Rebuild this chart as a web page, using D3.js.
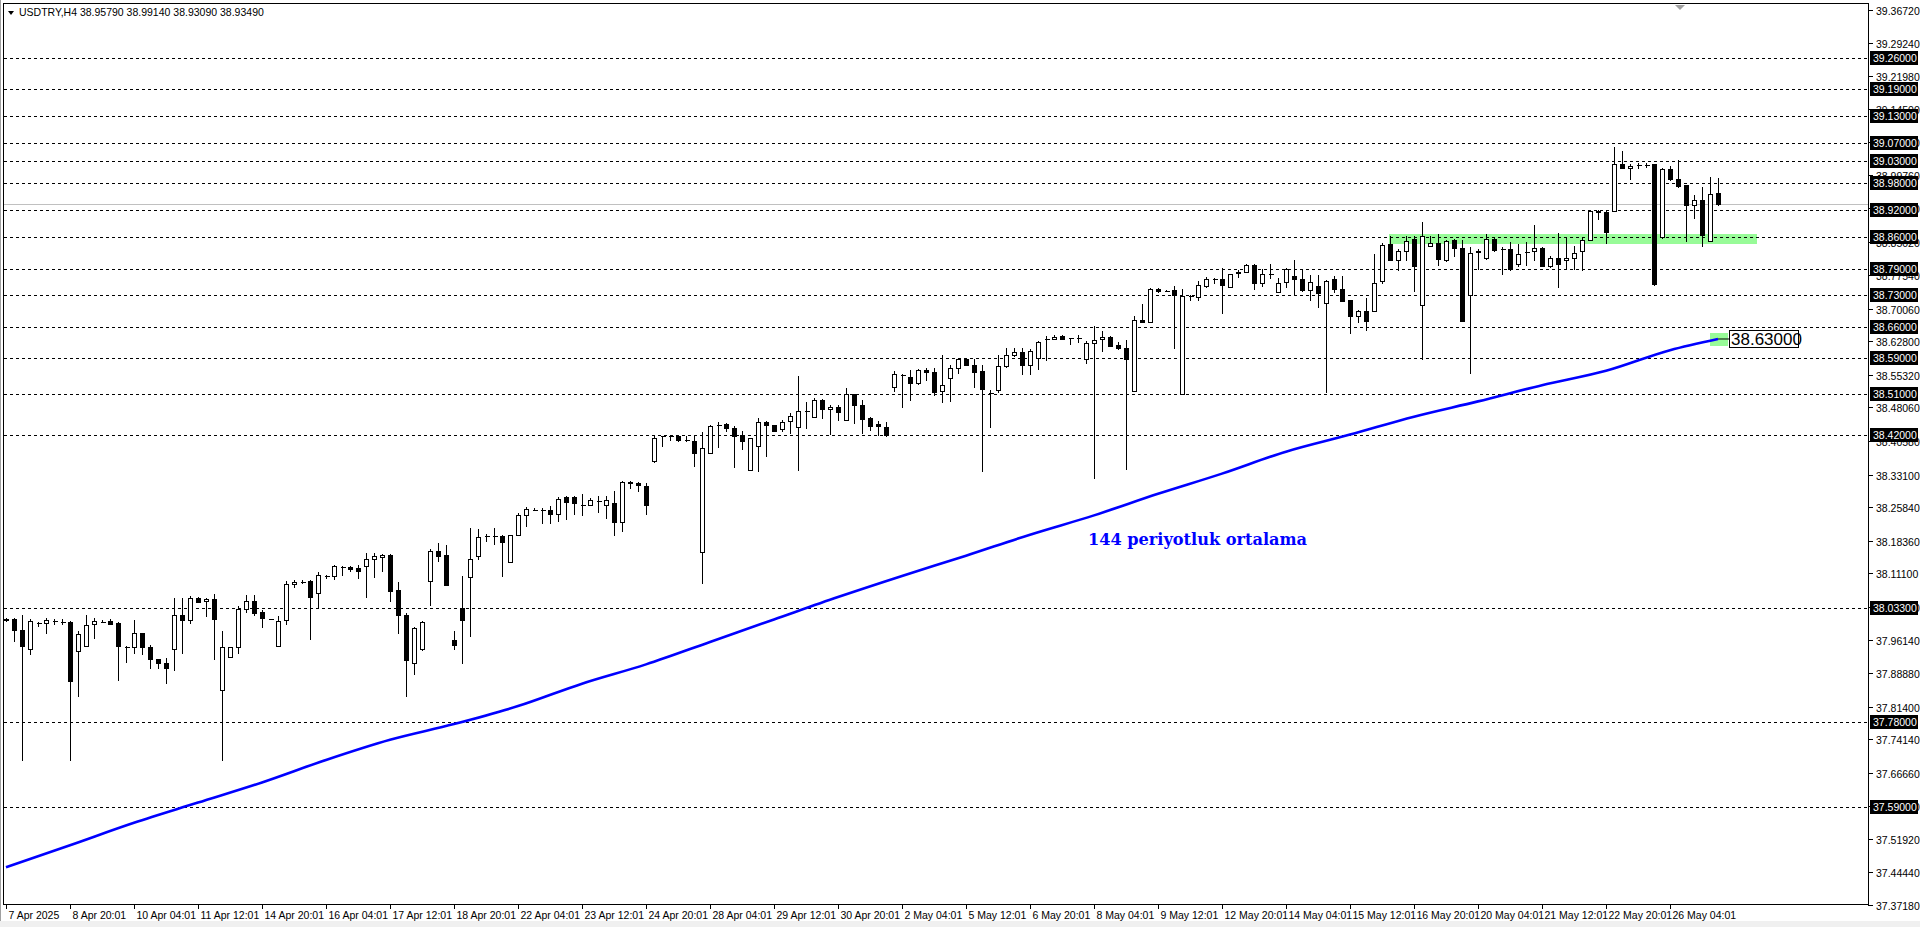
<!DOCTYPE html>
<html><head><meta charset="utf-8">
<script src="https://cdn.jsdelivr.net/npm/d3@7"></script>
<style>html,body{margin:0;padding:0;background:#fff;overflow:hidden}svg{display:block}</style>
</head><body>
<svg id="c" width="1920" height="927"></svg>
<script>
const symbol = "USDTRY,H4";
const lastQuote = ["38.95790","38.99140","38.93090","38.93490"];
// [open, high, low, close]
const ohlc = [
[38.010,38.011,38.005,38.006],[38.009,38.011,37.959,37.984],[37.985,38.017,37.696,37.950],[37.942,38.008,37.932,38.005],
[38.001,38.003,37.994,38.000],[38.000,38.011,37.978,38.007],[38.004,38.010,37.999,38.004],[38.002,38.008,37.997,38.002],
[38.003,38.004,37.696,37.870],[37.937,37.982,37.838,37.975],[37.950,38.017,37.948,37.995],[37.997,38.011,37.967,38.004],
[38.003,38.006,38.002,38.003],[38.005,38.008,37.997,37.999],[38.000,38.002,37.874,37.950],[37.947,37.948,37.913,37.947],
[37.946,38.007,37.933,37.977],[37.978,37.978,37.930,37.946],[37.947,37.952,37.899,37.919],[37.920,37.921,37.899,37.910],
[37.910,37.922,37.867,37.899],[37.942,38.056,37.896,38.017],[38.017,38.056,37.933,38.006],[38.006,38.060,38.000,38.055],
[38.056,38.058,38.046,38.048],[38.049,38.056,38.015,38.054],[38.054,38.065,37.921,38.008],[37.850,37.982,37.696,37.946],
[37.924,37.946,37.924,37.946],[37.946,38.039,37.933,38.032],[38.032,38.063,38.024,38.049],[38.049,38.063,38.017,38.023],
[38.024,38.030,37.991,38.012],[38.009,38.010,38.008,38.009],[37.948,38.015,37.948,38.004],[38.006,38.093,37.997,38.087],
[38.087,38.095,38.081,38.092],[38.092,38.097,38.090,38.092],[38.093,38.095,37.965,38.057],[38.066,38.113,38.033,38.107],
[38.105,38.107,38.101,38.104],[38.104,38.130,38.099,38.127],[38.124,38.128,38.108,38.124],[38.124,38.127,38.115,38.121],
[38.122,38.129,38.101,38.115],[38.127,38.156,38.059,38.142],[38.142,38.156,38.103,38.149],[38.147,38.155,38.117,38.152],
[38.152,38.153,38.050,38.072],[38.073,38.091,37.977,38.017],[38.017,38.023,37.837,37.917],[37.911,37.991,37.887,37.988],
[37.942,38.005,37.941,38.003],[38.093,38.164,38.041,38.160],[38.160,38.179,38.138,38.150],[38.151,38.175,38.084,38.084],
[37.962,37.982,37.943,37.952],[38.033,38.106,37.910,38.006],[38.102,38.211,37.971,38.142],[38.149,38.210,38.142,38.191],
[38.195,38.199,38.182,38.195],[38.195,38.211,38.177,38.195],[38.195,38.197,38.106,38.180],[38.136,38.197,38.136,38.196],
[38.196,38.246,38.196,38.240],[38.241,38.259,38.217,38.254],[38.253,38.256,38.251,38.253],[38.252,38.256,38.223,38.252],
[38.252,38.260,38.223,38.243],[38.243,38.280,38.227,38.276],[38.280,38.283,38.231,38.269],[38.281,38.283,38.242,38.267],
[38.262,38.288,38.240,38.262],[38.263,38.278,38.263,38.274],[38.271,38.284,38.248,38.271],[38.263,38.283,38.234,38.274],
[38.267,38.294,38.197,38.225],[38.225,38.316,38.205,38.315],[38.315,38.316,38.300,38.312],[38.312,38.314,38.294,38.307],
[38.306,38.312,38.244,38.262],[38.362,38.416,38.360,38.412],[38.416,38.417,38.394,38.416],[38.416,38.419,38.408,38.416],
[38.416,38.416,38.405,38.408],[38.409,38.416,38.405,38.409],[38.405,38.416,38.350,38.378],[38.158,38.426,38.090,38.389],
[38.379,38.442,38.379,38.439],[38.442,38.448,38.392,38.442],[38.443,38.445,38.427,38.434],[38.434,38.439,38.347,38.416],
[38.419,38.428,38.388,38.405],[38.341,38.413,38.340,38.412],[38.395,38.458,38.338,38.448],[38.448,38.451,38.373,38.441],
[38.441,38.442,38.428,38.429],[38.432,38.452,38.427,38.448],[38.450,38.467,38.424,38.461],[38.437,38.550,38.342,38.472],
[38.472,38.492,38.435,38.472],[38.460,38.502,38.459,38.497],[38.497,38.500,38.456,38.476],[38.476,38.487,38.422,38.481],
[38.481,38.487,38.453,38.471],[38.453,38.524,38.453,38.511],[38.511,38.511,38.446,38.485],[38.485,38.496,38.424,38.455],
[38.457,38.459,38.431,38.440],[38.444,38.451,38.420,38.439],[38.438,38.447,38.417,38.419],[38.526,38.561,38.517,38.554],
[38.552,38.555,38.481,38.552],[38.549,38.565,38.498,38.534],[38.534,38.566,38.533,38.563],[38.563,38.569,38.541,38.559],
[38.559,38.569,38.509,38.515],[38.518,38.598,38.493,38.531],[38.545,38.574,38.494,38.569],[38.569,38.591,38.558,38.589],
[38.589,38.591,38.574,38.576],[38.576,38.589,38.526,38.560],[38.561,38.576,38.338,38.522],[38.513,38.520,38.437,38.513],
[38.520,38.597,38.515,38.572],[38.572,38.612,38.570,38.598],[38.598,38.612,38.595,38.604],[38.604,38.612,38.555,38.575],
[38.575,38.610,38.555,38.607],[38.591,38.628,38.566,38.627],[38.633,38.639,38.586,38.633],[38.633,38.641,38.632,38.638],
[38.640,38.641,38.633,38.634],[38.635,38.636,38.621,38.635],[38.636,38.641,38.627,38.636],[38.589,38.628,38.580,38.625],
[38.625,38.661,38.323,38.631],[38.632,38.650,38.606,38.638],[38.638,38.639,38.617,38.618],[38.619,38.626,38.610,38.612],
[38.612,38.630,38.344,38.589],[38.518,38.685,38.517,38.676],[38.676,38.710,38.670,38.671],[38.671,38.747,38.671,38.745],
[38.745,38.747,38.738,38.741],[38.741,38.743,38.740,38.741],[38.743,38.751,38.613,38.731],[38.511,38.745,38.511,38.729],
[38.728,38.732,38.719,38.728],[38.726,38.762,38.720,38.753],[38.751,38.771,38.748,38.766],[38.766,38.769,38.757,38.766],
[38.766,38.792,38.691,38.754],[38.749,38.778,38.749,38.777],[38.779,38.787,38.771,38.783],[38.783,38.799,38.782,38.798],
[38.798,38.799,38.745,38.757],[38.757,38.789,38.752,38.778],[38.778,38.801,38.769,38.778],[38.737,38.769,38.737,38.758],
[38.760,38.792,38.749,38.789],[38.774,38.808,38.730,38.767],[38.767,38.786,38.740,38.743],[38.743,38.775,38.720,38.760],
[38.750,38.775,38.704,38.735],[38.714,38.765,38.514,38.763],[38.767,38.774,38.738,38.745],[38.745,38.773,38.717,38.717],
[38.719,38.721,38.646,38.684],[38.684,38.698,38.671,38.695],[38.695,38.725,38.652,38.674],[38.695,38.823,38.695,38.758],
[38.763,38.847,38.758,38.843],[38.844,38.862,38.808,38.809],[38.809,38.834,38.787,38.829],[38.829,38.862,38.808,38.851],
[38.856,38.862,38.741,38.795],[38.709,38.893,38.589,38.862],[38.841,38.862,38.840,38.847],[38.847,38.866,38.798,38.811],
[38.809,38.854,38.806,38.851],[38.853,38.855,38.819,38.836],[38.836,38.854,38.673,38.673],[38.730,38.838,38.557,38.824],
[38.826,38.834,38.789,38.830],[38.814,38.867,38.812,38.856],[38.856,38.858,38.829,38.832],[38.834,38.838,38.778,38.834],
[38.834,38.849,38.787,38.789],[38.799,38.845,38.795,38.823],[38.827,38.849,38.797,38.827],[38.828,38.886,38.810,38.836],
[38.836,38.838,38.795,38.796],[38.796,38.817,38.793,38.814],[38.814,38.870,38.749,38.801],[38.808,38.860,38.792,38.814],
[38.814,38.841,38.789,38.825],[38.828,38.860,38.787,38.853],[38.854,38.921,38.853,38.918],[38.919,38.921,38.901,38.916],
[38.915,38.918,38.848,38.872],[38.918,39.060,38.918,39.023],[39.023,39.052,39.013,39.013],[39.015,39.022,38.989,39.019],
[39.021,39.026,39.013,39.021],[39.021,39.026,39.017,39.021],[39.022,39.023,38.753,38.755],[38.860,39.015,38.859,39.012],
[39.012,39.018,38.987,38.989],[38.989,39.032,38.972,38.974],[38.976,38.977,38.851,38.931],[38.931,38.954,38.902,38.942],
[38.943,38.972,38.840,38.864],[38.851,38.995,38.851,38.956],[38.9579,38.9914,38.9309,38.9349]
];
const maBars   = [0,8,16,24,32,40,48,56,64,72,80,88,96,104,112,120,128,136,144,152,160,168,176,184,192,200,208,214];
const maValues = [37.456,37.505,37.555,37.600,37.645,37.695,37.740,37.775,37.815,37.865,37.908,37.958,38.008,38.058,38.105,38.150,38.197,38.240,38.288,38.333,38.382,38.420,38.460,38.494,38.530,38.562,38.608,38.633];
const dateLabels = ["7 Apr 2025","8 Apr 20:01","10 Apr 04:01","11 Apr 12:01","14 Apr 20:01","16 Apr 04:01","17 Apr 12:01","18 Apr 20:01","22 Apr 04:01","23 Apr 12:01","24 Apr 20:01","28 Apr 04:01","29 Apr 12:01","30 Apr 20:01","2 May 04:01","5 May 12:01","6 May 20:01","8 May 04:01","9 May 12:01","12 May 20:01","14 May 04:01","15 May 12:01","16 May 20:01","20 May 04:01","21 May 12:01","22 May 20:01","26 May 04:01"];
const dateStep = 8;
const yTicks = [39.3672,39.2924,39.2198,39.1450,39.0724,38.9976,38.9240,38.8502,38.7754,38.7006,38.6280,38.5532,38.4806,38.4058,38.3310,38.2584,38.1836,38.1110,38.0362,37.9614,37.8888,37.8140,37.7414,37.6666,37.5918,37.5192,37.4444,37.3718];
const levels = [39.26,39.19,39.13,39.07,39.03,38.98,38.92,38.86,38.79,38.73,38.66,38.59,38.51,38.42,38.033,37.78,37.59];
const bidPrice = 38.9349;
const zone = {from:172.9, to:218.9, low:38.845, high:38.866};
const maLabel = "38.63000";
const noteText = "144 periyotluk ortalama";
const notePos = {bar:135.25, price:38.174};

const svg = d3.select("#c");
const L=4, R=1868, T=4, B=904;
const x = d3.scaleLinear().domain([0,214]).range([6,1718]);
const y = d3.scaleLinear().domain([37.3718,39.3672]).range([905,9.5]);
const px = v => Math.round(v)+0.5;
const FONT = "Liberation Sans, Arial, sans-serif";

svg.append("rect").attr("x",0).attr("y",0).attr("width",1920).attr("height",927).attr("fill","#fff");
svg.append("rect").attr("x",0).attr("y",921).attr("width",1920).attr("height",6).attr("fill","#f0f0f0");
svg.append("line").attr("x1",0.5).attr("x2",0.5).attr("y1",0).attr("y2",921).attr("stroke","#a0a0a0").attr("stroke-width",1);

const g = svg.append("g").attr("shape-rendering","crispEdges");
g.append("rect").attr("x",x(zone.from)).attr("width",x(zone.to)-x(zone.from))
 .attr("y",y(zone.high)).attr("height",y(zone.low)-y(zone.high)).attr("fill","#98fb98");
g.append("line").attr("x1",L).attr("x2",R).attr("y1",px(y(bidPrice))).attr("y2",px(y(bidPrice))).attr("stroke","#c0c0c0");
g.selectAll(".lv").data(levels).join("line").attr("x1",L).attr("x2",R)
 .attr("y1",d=>px(y(d))).attr("y2",d=>px(y(d))).attr("stroke","#000").attr("stroke-dasharray","3,3");

const cg = g.append("g");
ohlc.forEach((d,i)=>{
  const [o,h,l,c]=d; const cx=px(x(i));
  cg.append("line").attr("x1",cx).attr("x2",cx).attr("y1",Math.round(y(h))).attr("y2",Math.round(y(l))+1).attr("stroke","#000");
  const top=Math.round(y(Math.max(o,c))), bot=Math.round(y(Math.min(o,c)));
  if (bot-top<1) {
    cg.append("line").attr("x1",cx-2).attr("x2",cx+3).attr("y1",top+0.5).attr("y2",top+0.5).attr("stroke","#000");
  } else {
    cg.append("rect").attr("x",cx-2).attr("y",top+0.5).attr("width",4).attr("height",bot-top)
      .attr("fill",c>=o?"#fff":"#000").attr("stroke","#000");
  }
});

const maData = maBars.map((b,i)=>[b,maValues[i]]);
const endX=x(214), endY=y(maValues[maValues.length-1]);
svg.append("rect").attr("x",endX-8).attr("y",endY-6).attr("width",18).attr("height",13).attr("fill","#98fb98");
svg.append("path").datum(maData).attr("fill","none").attr("stroke","#0000ff").attr("stroke-width",2.6)
 .attr("d",d3.line().x(d=>x(d[0])).y(d=>y(d[1])).curve(d3.curveMonotoneX));
svg.append("line").attr("x1",endX).attr("x2",endX+11).attr("y1",endY).attr("y2",endY).attr("stroke","#000");
svg.append("rect").attr("x",endX+11.5).attr("y",endY-8.5).attr("width",69).attr("height",17).attr("fill","#fff").attr("stroke","#000");
svg.append("text").attr("x",endX+13).attr("y",endY+6.5).attr("font-family",FONT).attr("font-size",17).text(maLabel);

svg.append("text").attr("x",x(notePos.bar)).attr("y",y(notePos.price)).attr("fill","#0000ff")
 .attr("font-family","DejaVu Serif").attr("font-weight","bold").attr("font-size",17)
 .attr("textLength",219).attr("lengthAdjust","spacingAndGlyphs").text(noteText);

g.append("rect").attr("x",L-0.5).attr("y",T-0.5).attr("width",R-L+1).attr("height",B-T+1).attr("fill","none").attr("stroke","#000");

const ax = svg.append("g").attr("font-family",FONT).attr("font-size",10.5);
yTicks.forEach(t=>{
  const yy=px(y(t));
  ax.append("line").attr("x1",R).attr("x2",R+5).attr("y1",yy).attr("y2",yy).attr("stroke","#000").attr("shape-rendering","crispEdges");
  ax.append("text").attr("x",R+8).attr("y",yy+4).attr("fill","#000").text(t.toFixed(5));
});
levels.forEach(t=>{
  const yy=Math.round(y(t));
  ax.append("rect").attr("x",R+2).attr("y",yy-7).attr("width",48).attr("height",14).attr("fill","#000");
  ax.append("text").attr("x",R+5).attr("y",yy+4).attr("fill","#fff").text(t.toFixed(5));
});

const bx = svg.append("g").attr("font-family",FONT).attr("font-size",10.5);
dateLabels.forEach((s,k)=>{
  const xx=px(x(k*dateStep));
  bx.append("line").attr("x1",xx).attr("x2",xx).attr("y1",B).attr("y2",B+5).attr("stroke","#000").attr("shape-rendering","crispEdges");
  bx.append("text").attr("x",xx+2).attr("y",B+15).attr("fill","#000").text(s);
});

svg.append("path").attr("d","M8,11 L14,11 L11,15 Z").attr("fill","#000");
svg.append("text").attr("x",19).attr("y",16).attr("font-family",FONT).attr("font-size",10.5)
 .text(symbol+"  "+lastQuote.join(" "));
svg.append("path").attr("d","M1675,5 L1685,5 L1680,10 Z").attr("fill","#a0a0a0");
</script>
</body></html>
